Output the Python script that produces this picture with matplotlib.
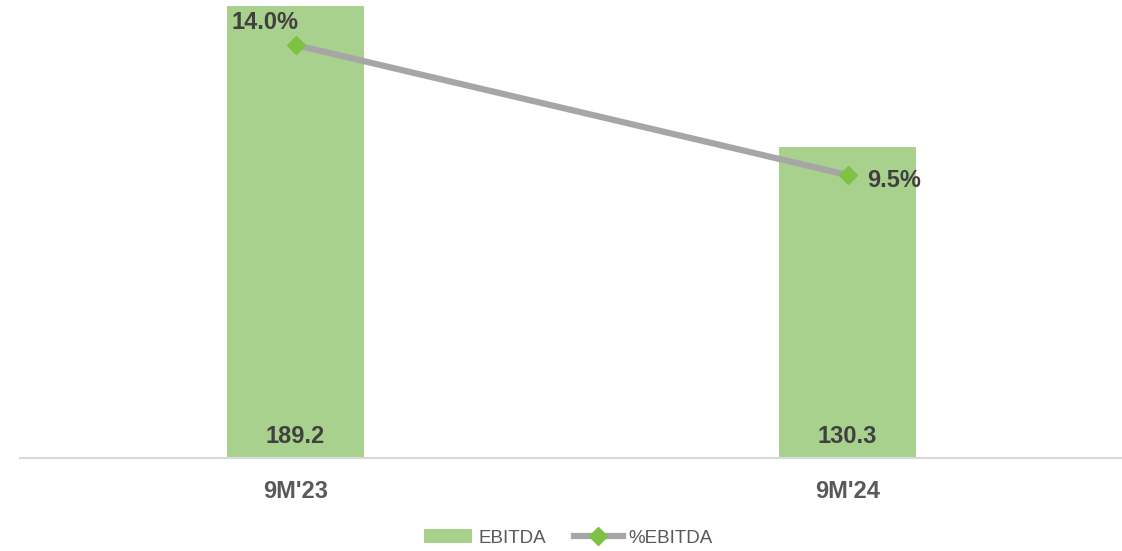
import matplotlib
matplotlib.use("Agg")
import matplotlib.pyplot as plt
from matplotlib import font_manager

# donnees du graphique
categories = ["9M'23", "9M'24"]
ebitda = [189.2, 130.3]
pct_ebitda = [14.0, 9.5]
ebitda_labels = ["189.2", "130.3"]
pct_labels = ["14.0%", "9.5%"]

noms = {f.name for f in font_manager.fontManager.ttflist}
police = "Liberation Sans Narrow" if "Liberation Sans Narrow" in noms else "Liberation Sans"
plt.rcParams['font.family'] = [police, 'DejaVu Sans']

vert_barre = "#a9d18e"
vert_marqueur = "#7dc242"
gris_ligne = "#a6a6a6"
texte = "#404040"

fig = plt.figure(figsize=(11.22, 5.51), dpi=100)
ax = fig.add_axes([19.5 / 1122, 1 - 458 / 551, 1104 / 1122, 458 / 551])
x = list(range(len(categories)))

# barres EBITDA
ax.bar(x, ebitda, width=0.248, color=vert_barre, label="EBITDA", zorder=1)
ax.set_xlim(-0.5, 1.5)
ax.set_ylim(0, 191.7)
for i, v in enumerate(ebitda):
    ax.text(x[i], 4, ebitda_labels[i], ha='center', va='bottom', fontsize=17,
            fontweight='bold', color=texte)

ax.set_yticks([])
for s in ['top', 'right', 'left']:
    ax.spines[s].set_visible(False)
ax.spines['bottom'].set_color("#d9d9d9")
ax.spines['bottom'].set_linewidth(1.5)
ax.set_xticks(x)
ax.set_xticklabels(categories, fontsize=17, fontweight='bold', color="#595959")
ax.tick_params(axis='x', length=0, pad=16)

# ligne %EBITDA sur axe secondaire
ax2 = ax.twinx()
ax2.set_ylim(-0.3, 15.56)
ax2.plot(x, pct_ebitda, color=gris_ligne, linewidth=4.5, marker='D', markersize=9,
         markerfacecolor=vert_marqueur, markeredgecolor=vert_marqueur,
         label="%EBITDA", zorder=3)
ax2.set_yticks([])
for s in ['top', 'right', 'left', 'bottom']:
    ax2.spines[s].set_visible(False)
ax2.annotate(pct_labels[0], (x[0], pct_ebitda[0]), xytext=(-22, 8), textcoords='offset points',
             ha='center', va='bottom', fontsize=17, fontweight='bold', color=texte)
ax2.annotate(pct_labels[1], (x[1], pct_ebitda[1]), xytext=(14, -4), textcoords='offset points',
             ha='left', va='center', fontsize=17, fontweight='bold', color=texte)

# legende
h1, l1 = ax.get_legend_handles_labels()
h2, l2 = ax2.get_legend_handles_labels()
fig.legend(h1 + h2, l1 + l2, loc='center', bbox_to_anchor=(568 / 1122, 1 - 538 / 551),
           ncol=2, frameon=False, fontsize=13.5, labelcolor="#595959",
           handlelength=2.6, columnspacing=1.5, handletextpad=0.3)

fig.savefig("out.png", dpi=100)
